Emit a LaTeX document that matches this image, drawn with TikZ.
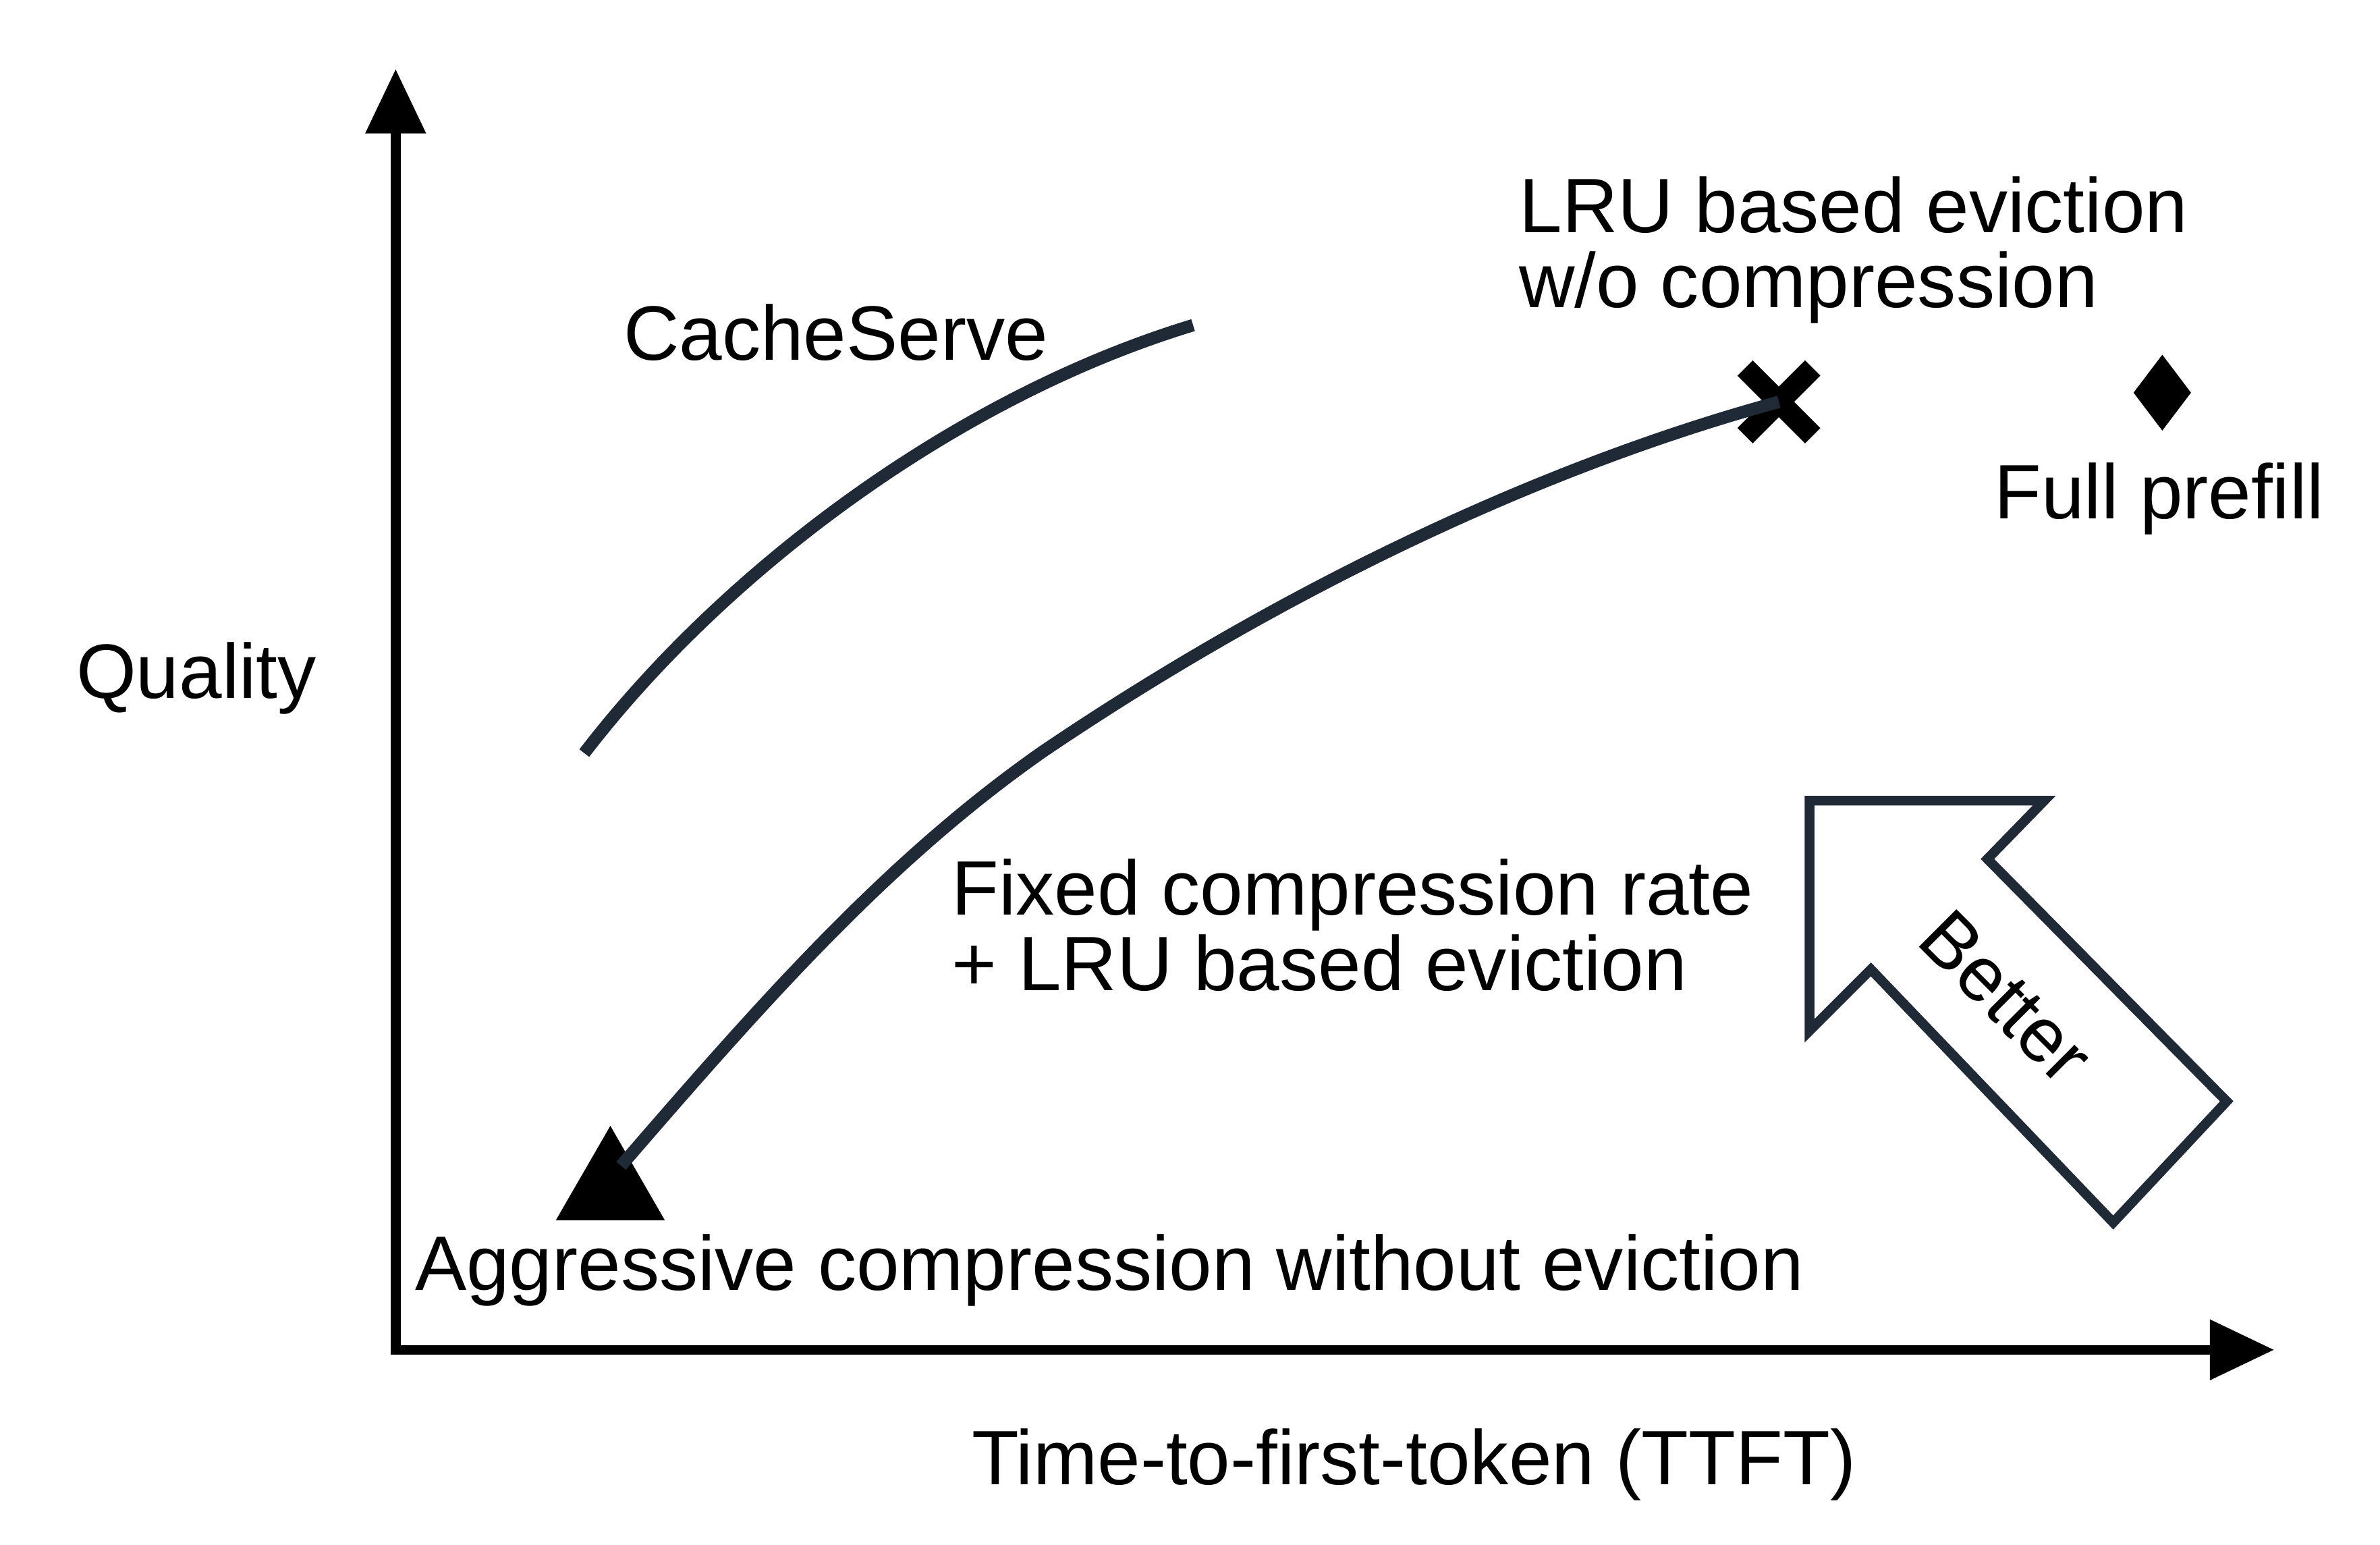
\documentclass[tikz,border=0pt]{standalone}
\usepackage{fontspec}
\setmainfont{Liberation Sans}
\usetikzlibrary{arrows.meta,shapes.geometric,shapes.misc}
\definecolor{navy}{HTML}{1F2A36}
\begin{document}
\begin{tikzpicture}[x=0.01cm,y=-0.01cm,
  lbl/.style={font=\fontsize{14.3}{16}\selectfont,inner sep=0pt},
  axis/.style={line width=1.8pt,-{Triangle[length=0.42cm,width=0.38cm]}},
  curve/.style={line width=2.3pt,navy}]
\useasboundingbox (0,0) rectangle (1552,1007);
\coordinate (o) at (258,880);
\coordinate (ytip) at (258,45);
\coordinate (xtip) at (1483,880);
\draw[axis] (258,883) -- (ytip);
\draw[axis] (255,880) -- (xtip);
% markers
\node[fill=black,regular polygon,regular polygon sides=3,minimum size=0.82cm,inner sep=0pt] (tri) at (398,775) {};
\node[draw=black,line width=4pt,cross out,minimum size=0.3cm,inner sep=0pt] (x) at (1160,262) {};
\node[fill=black,diamond,minimum width=0.38cm,minimum height=0.5cm,inner sep=0pt] (dia) at (1410,256) {};
\draw[curve] (381,491) .. controls (470,375) and (620,260) .. (778,212);
\draw[curve] (405,760) .. controls (500,650) and (580,560) .. (680,490) .. controls (850,375) and (1020,300) .. (x.center);
% Better arrow
\draw[line width=1.8pt,navy] (1180,522) -- (1333,522) -- (1296,560) -- (1452,718) -- (1378,797) -- (1220,632) -- (1180,672) -- cycle;
\node[lbl,rotate=-45] (better) at (1308,650) {Better};
% labels
\node[lbl] (cs) at (545,217) {CacheServe};
\node[lbl,anchor=west,align=left] (lru) at (990,163) {LRU based eviction\\[-2pt]w/o compression};
\node[lbl] (fp) at (1408,325) {Full prefill};
\node[lbl] (q) at (128,442) {Quality};
\node[lbl,anchor=west,align=left] (fix) at (620,603) {Fixed compression rate\\[-2pt]+ LRU based eviction};
\node[lbl,anchor=west] (agg) at (270,828) {Aggressive compression without eviction};
\node[lbl] (t) at (922,955) {Time-to-first-token (TTFT)};
\end{tikzpicture}
\end{document}
